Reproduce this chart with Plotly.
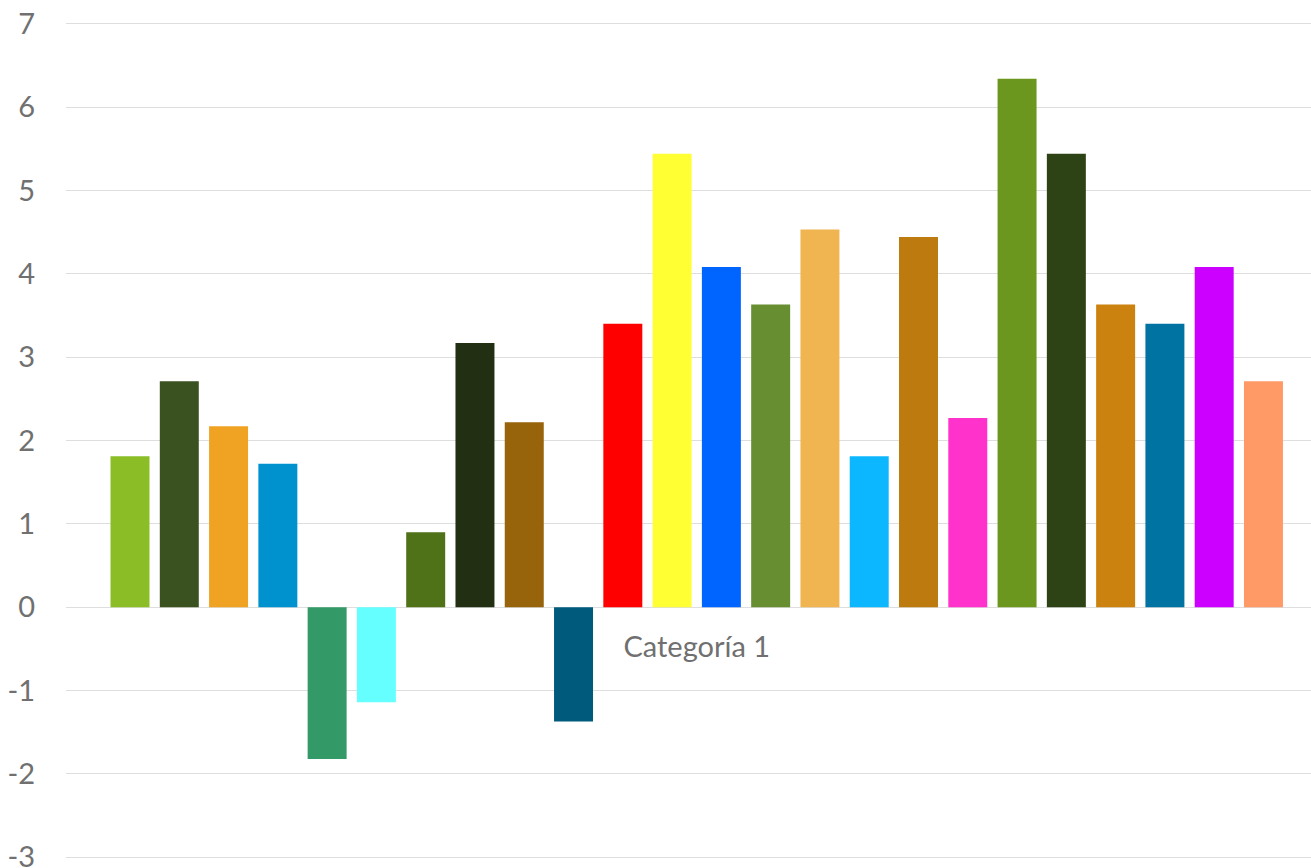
import plotly.graph_objects as go

# Category and the 24 series plotted against it
categories = ["Categoría 1"]
series_names = [f"Serie {i}" for i in range(1, 25)]
series_values = [
    1.81, 2.71, 2.17, 1.72, -1.82, -1.14, 0.90, 3.17, 2.22, -1.37, 3.40, 5.44,
    4.08, 3.63, 4.53, 1.81, 4.44, 2.27, 6.34, 5.44, 3.63, 3.40, 4.08, 2.71,
]
series_colors = [
    "#8ABD26", "#3A5220", "#F0A222", "#0092CF", "#339966", "#66FFFF",
    "#4F7118", "#222F12", "#97630B", "#005A7B", "#FF0000", "#FFFF33",
    "#0064FF", "#678E31", "#F0B450", "#0DB7FF", "#BD7B0F", "#FF33CC",
    "#6B971E", "#2D4315", "#CB820F", "#0073A3", "#CC00FF", "#FF9966",
]
y_ticks = [-3, -2, -1, 0, 1, 2, 3, 4, 5, 6, 7]
y_tick_labels = ["-3", "-2", "-1", "0", "1", "2", "3", "4", "5", "6", "7"]

label_font = dict(family="Lato, 'Open Sans', sans-serif", size=29, color="#707070")

fig = go.Figure()
for name, val, col in zip(series_names, series_values, series_colors):
    fig.add_trace(go.Bar(
        name=name, x=categories, y=[val], marker=dict(color=col, line=dict(width=0)),
        showlegend=False,
    ))

fig.update_layout(
    width=1311, height=868,
    margin=dict(l=66, r=0, t=22, b=9, autoexpand=False),
    paper_bgcolor="white", plot_bgcolor="white",
    barmode="group", bargap=0.0596, bargroupgap=0.209,
    xaxis=dict(
        type="category", range=[-0.5015, 0.4884],
        anchor="free", position=0.3, automargin=False,
        showgrid=False, showline=False, ticks="",
        tickfont=label_font, ticklabelstandoff=19,
    ),
    yaxis=dict(
        range=[-3.02, 7.02], tickvals=y_ticks, ticktext=y_tick_labels,
        automargin=False,
        showgrid=True, gridcolor="#DEDEDE", gridwidth=1.4,
        zeroline=False, showline=False, ticks="",
        tickfont=label_font, ticklabelstandoff=30,
        ticklabeloverflow="allow",
    ),
)

fig.write_html("out.html")
